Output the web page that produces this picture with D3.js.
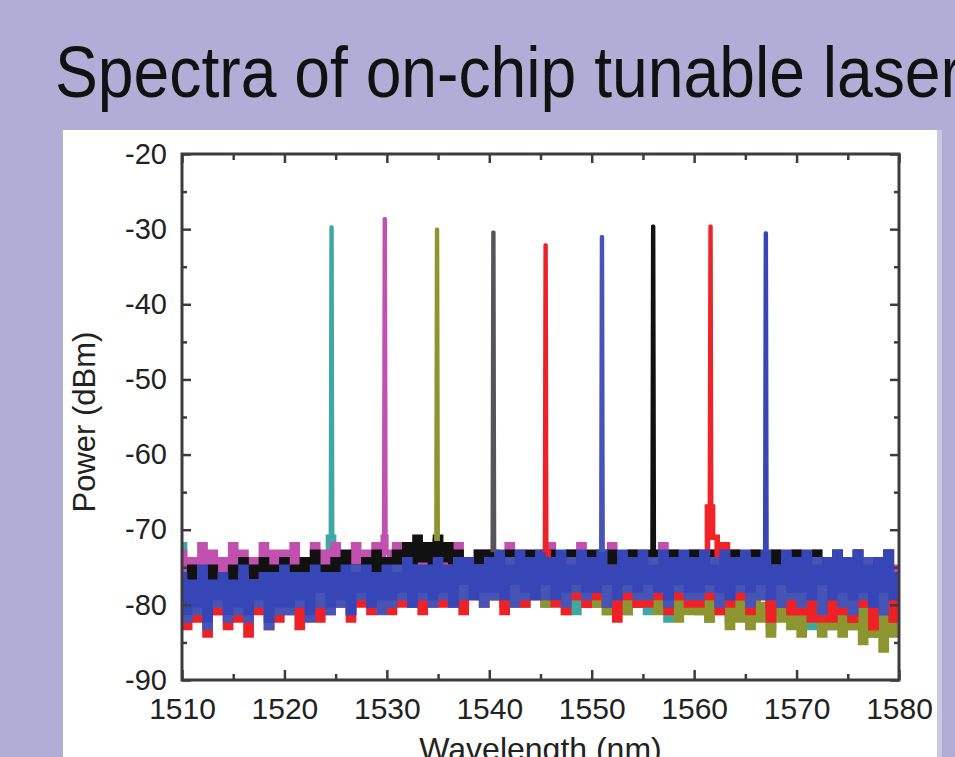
<!DOCTYPE html>
<html>
<head>
<meta charset="utf-8">
<script src="https://cdn.jsdelivr.net/npm/d3@7"></script>
<style>
  html, body { margin: 0; padding: 0; background: #b1add6; overflow: hidden; }
  svg { display: block; }
</style>
</head>
<body>
<svg id="chart" width="955" height="757"></svg>
<script>
// Noise floor every 0.5 nm, from 1510 to 1580 nm.
var gridStart = 1510, gridStep = 0.5;

var xTicks = [1510, 1520, 1530, 1540, 1550, 1560, 1570, 1580];
var xMinorTicks = [1515, 1525, 1535, 1545, 1555, 1565, 1575];
var yTicks = [-20, -30, -40, -50, -60, -70, -80, -90];
var yMinorTicks = [-25, -35, -45, -55, -65, -75, -85];

// One trace per laser setting, in the order the peaks sit on the axis.
var seriesNames = ["teal", "magenta", "olive", "gray", "red1", "blue1", "black", "red2", "blue2"];
var seriesColors = ["#3fa8a2", "#c150ae", "#8c9530", "#58545c", "#ee2226", "#4654b6", "#111111", "#f02428", "#3646b6"];
var peakWavelength = [1524.6, 1529.8, 1534.9, 1540.4, 1545.5, 1551.0, 1556.0, 1561.6, 1567.0];
var peakPower = [-29.7, -28.6, -30.0, -30.4, -32.1, -31.0, -29.6, -29.6, -30.5];
var peakFoot = [-71, -71, -71.5, -73, -73, -73, -73, -67, -73];

var noiseTeal = [
  -72,-79,-76,-78,-75,-80,-76,-78,-75,-79,
  -76,-79,-75,-78,-77,-80,-76,-79,-75,-78,
  -76,-79,-77,-78,-75,-80,-76,-78,-77,-79,
  -76,-78,-75,-79,-77,-78,-76,-79,-75,-78,
  -76,-78,-75,-79,-76,-78,-75,-77,-76,-79,
  -76,-79,-75,-78,-77,-80,-76,-78,-75,-79,
  -76,-79,-77,-80,-76,-78,-77,-80,-76,-79,
  -77,-80,-76,-79,-78,-80,-77,-81,-76,-79,
  -77,-80,-78,-81,-77,-79,-78,-81,-77,-80,
  -78,-81,-77,-80,-78,-82,-77,-81,-78,-80,
  -78,-81,-79,-82,-78,-80,-79,-82,-78,-81,
  -79,-82,-78,-81,-80,-83,-79,-81,-80,-82,
  -79,-82,-80,-83,-79,-81,-80,-83,-79,-82,
  -80,-83,-79,-82,-81,-84,-80,-82,-79,-83,
  -81
];
var noiseMagenta = [
  -73,-77,-74,-76,-72,-77,-73,-76,-74,-77,
  -72,-76,-73,-77,-74,-76,-72,-77,-73,-76,
  -73,-76,-72,-77,-74,-75,-72,-76,-73,-77,
  -72,-76,-74,-75,-72,-77,-73,-75,-72,-76,
  -73,-76,-72,-75,-74,-76,-73,-75,-72,-76,
  -74,-76,-73,-75,-72,-76,-74,-75,-73,-76,
  -73,-76,-74,-75,-72,-76,-73,-75,-74,-76,
  -73,-75,-72,-76,-74,-75,-73,-76,-72,-75,
  -74,-76,-73,-75,-72,-76,-74,-75,-73,-76,
  -73,-76,-74,-75,-72,-76,-73,-75,-74,-76,
  -73,-76,-74,-77,-73,-75,-74,-76,-73,-75,
  -74,-77,-73,-76,-74,-75,-73,-77,-74,-76,
  -73,-77,-74,-76,-73,-78,-74,-76,-75,-77,
  -74,-77,-73,-76,-75,-78,-74,-77,-73,-76,
  -75
];
var noiseOlive = [
  -76,-79,-75,-78,-77,-80,-75,-79,-76,-78,
  -75,-79,-76,-78,-75,-80,-77,-78,-75,-79,
  -76,-78,-75,-79,-77,-78,-75,-79,-76,-78,
  -75,-78,-76,-77,-75,-79,-76,-77,-75,-78,
  -75,-77,-74,-76,-73,-75,-72,-75,-73,-74,
  -72,-75,-73,-76,-74,-77,-75,-78,-76,-79,
  -76,-79,-77,-80,-76,-78,-77,-80,-76,-79,
  -77,-80,-76,-79,-77,-81,-76,-79,-77,-80,
  -77,-80,-76,-81,-77,-79,-78,-81,-77,-80,
  -78,-80,-77,-81,-78,-80,-77,-82,-78,-81,
  -78,-81,-79,-82,-78,-81,-79,-83,-78,-82,
  -79,-83,-78,-82,-80,-84,-79,-82,-80,-83,
  -79,-84,-80,-82,-81,-84,-79,-83,-80,-84,
  -80,-83,-81,-85,-80,-84,-82,-86,-81,-84,
  -82
];
var noiseGray = [
  -76,-79,-75,-80,-77,-78,-75,-79,-76,-80,
  -75,-79,-77,-78,-75,-80,-76,-79,-75,-78,
  -76,-79,-75,-78,-77,-80,-75,-79,-76,-78,
  -75,-78,-76,-79,-75,-77,-76,-79,-75,-78,
  -75,-78,-74,-77,-75,-79,-74,-77,-75,-78,
  -74,-77,-75,-78,-74,-77,-75,-78,-74,-77,
  -75,-78,-74,-77,-75,-79,-74,-77,-75,-78,
  -74,-78,-75,-77,-74,-79,-75,-77,-74,-78,
  -75,-78,-74,-79,-75,-77,-74,-78,-75,-79,
  -74,-78,-75,-77,-74,-79,-75,-78,-74,-77,
  -75,-79,-74,-78,-76,-79,-75,-78,-74,-79,
  -75,-79,-76,-78,-75,-80,-76,-79,-75,-78,
  -76,-80,-75,-79,-77,-80,-76,-79,-75,-80,
  -76,-80,-77,-79,-76,-81,-77,-80,-76,-79,
  -78
];
var noiseRed1 = [
  -79,-83,-78,-82,-80,-84,-78,-81,-79,-83,
  -78,-82,-80,-84,-77,-81,-79,-83,-78,-82,
  -79,-81,-77,-83,-78,-80,-79,-82,-77,-81,
  -78,-80,-77,-82,-76,-80,-78,-81,-77,-80,
  -77,-81,-76,-79,-78,-80,-76,-81,-77,-79,
  -76,-80,-77,-79,-75,-81,-77,-79,-76,-80,
  -77,-79,-76,-81,-77,-78,-76,-80,-77,-79,
  -76,-80,-77,-78,-76,-81,-77,-79,-76,-80,
  -77,-79,-76,-80,-77,-82,-76,-79,-77,-80,
  -76,-80,-77,-79,-76,-81,-77,-79,-76,-80,
  -77,-80,-76,-79,-77,-81,-76,-80,-77,-79,
  -76,-81,-77,-79,-76,-82,-77,-80,-76,-81,
  -77,-81,-76,-82,-78,-80,-77,-82,-76,-81,
  -77,-82,-76,-80,-78,-83,-77,-81,-76,-82,
  -79
];
var noiseBlue1 = [
  -77,-82,-78,-81,-76,-83,-78,-80,-77,-82,
  -78,-81,-76,-82,-77,-80,-78,-83,-76,-81,
  -77,-81,-76,-80,-78,-82,-76,-80,-77,-81,
  -76,-80,-77,-81,-75,-79,-77,-80,-76,-81,
  -76,-80,-75,-79,-77,-80,-75,-79,-76,-80,
  -75,-79,-76,-80,-74,-79,-76,-78,-75,-80,
  -75,-79,-76,-78,-74,-80,-75,-79,-76,-78,
  -74,-79,-76,-78,-75,-80,-74,-78,-76,-79,
  -75,-78,-74,-80,-76,-79,-75,-78,-74,-79,
  -76,-79,-74,-78,-75,-80,-76,-78,-74,-79,
  -75,-79,-76,-78,-74,-80,-75,-79,-76,-78,
  -75,-80,-74,-79,-76,-78,-75,-80,-74,-79,
  -76,-80,-75,-79,-74,-81,-76,-79,-75,-80,
  -75,-81,-76,-79,-74,-80,-76,-81,-75,-79,
  -77
];
var noiseBlack = [
  -76,-79,-75,-78,-76,-80,-75,-78,-76,-79,
  -75,-78,-74,-77,-75,-78,-74,-77,-75,-78,
  -74,-77,-75,-78,-74,-77,-73,-76,-75,-77,
  -74,-77,-73,-76,-75,-77,-74,-76,-73,-77,
  -74,-76,-73,-75,-72,-75,-71,-74,-72,-75,
  -71,-74,-72,-75,-73,-76,-74,-76,-73,-77,
  -73,-76,-74,-77,-73,-75,-74,-77,-73,-76,
  -74,-77,-73,-76,-74,-77,-73,-76,-74,-77,
  -73,-76,-74,-77,-73,-76,-74,-78,-73,-76,
  -74,-77,-73,-76,-74,-77,-73,-76,-74,-77,
  -73,-77,-74,-76,-73,-77,-74,-76,-73,-77,
  -74,-76,-73,-77,-74,-76,-73,-78,-74,-76,
  -73,-77,-74,-76,-73,-78,-74,-77,-73,-76,
  -74,-78,-73,-77,-75,-78,-74,-77,-73,-78,
  -76
];
var noiseRed2 = [
  -77,-80,-78,-81,-77,-79,-78,-81,-77,-80,
  -78,-80,-77,-81,-78,-79,-77,-80,-78,-81,
  -77,-80,-76,-79,-78,-81,-77,-79,-76,-80,
  -77,-79,-76,-80,-77,-79,-76,-80,-77,-79,
  -76,-79,-77,-80,-76,-78,-77,-79,-76,-80,
  -76,-79,-75,-78,-77,-80,-76,-79,-75,-78,
  -76,-79,-77,-78,-75,-80,-76,-79,-77,-78,
  -76,-79,-75,-80,-77,-78,-76,-79,-75,-80,
  -76,-78,-77,-80,-75,-79,-76,-78,-77,-80,
  -76,-79,-75,-78,-77,-80,-76,-79,-75,-78,
  -76,-79,-73,-76,-71,-74,-72,-76,-74,-79,
  -77,-80,-76,-79,-78,-81,-77,-80,-76,-81,
  -78,-81,-77,-80,-79,-82,-77,-81,-78,-80,
  -78,-82,-77,-80,-79,-83,-78,-81,-77,-82,
  -79
];
var noiseBlue2 = [
  -76,-81,-77,-80,-75,-82,-77,-79,-76,-81,
  -77,-80,-75,-81,-77,-79,-76,-82,-76,-80,
  -75,-80,-76,-79,-76,-81,-75,-78,-76,-80,
  -76,-79,-75,-81,-76,-78,-75,-80,-76,-79,
  -75,-79,-76,-78,-74,-80,-75,-78,-75,-79,
  -74,-78,-75,-80,-74,-77,-74,-79,-75,-78,
  -74,-78,-73,-79,-75,-77,-73,-78,-74,-79,
  -73,-77,-74,-79,-73,-78,-75,-77,-73,-78,
  -74,-78,-73,-77,-75,-79,-73,-77,-74,-78,
  -73,-77,-75,-78,-73,-79,-74,-77,-73,-78,
  -74,-78,-73,-77,-75,-78,-73,-79,-74,-77,
  -73,-78,-74,-77,-73,-79,-75,-77,-73,-78,
  -74,-78,-73,-79,-75,-77,-74,-79,-73,-78,
  -74,-79,-73,-78,-75,-80,-74,-78,-73,-79,
  -76
];

var seriesNoise = [noiseTeal, noiseMagenta, noiseOlive, noiseGray, noiseRed1,
                   noiseBlue1, noiseBlack, noiseRed2, noiseBlue2];

// Later traces end up on top, the way the blue floor covers most of the others.
var drawOrder = [0, 2, 3, 1, 6, 7, 4, 5, 8];

var svg = d3.select("#chart");
var W = 955, H = 757;

// Slide backdrop and the white figure panel.
svg.append("rect").attr("width", W).attr("height", H).attr("fill", "#b1add6");
svg.append("rect").attr("x", 937).attr("y", 130).attr("width", 5).attr("height", H - 130)
  .attr("fill", "#cbc8e6");
svg.append("rect").attr("x", 63).attr("y", 130).attr("width", 874).attr("height", H - 130)
  .attr("fill", "#ffffff");

svg.append("text")
  .attr("x", 55).attr("y", 97)
  .attr("textLength", 907).attr("lengthAdjust", "spacingAndGlyphs")
  .style("font-family", "'Liberation Sans', Arial, sans-serif")
  .style("font-size", "72px")
  .attr("fill", "#111")
  .text("Spectra of on-chip tunable laser");

var margin = {left: 182, top: 154, right: 899, bottom: 680};
var width = margin.right - margin.left;
var height = margin.bottom - margin.top;

var x = d3.scaleLinear().domain([1510, 1580]).range([0, width]);
var y = d3.scaleLinear().domain([-90, -20]).range([height, 0]);

var g = svg.append("g").attr("transform", "translate(" + margin.left + "," + margin.top + ")");

g.append("clipPath").attr("id", "plotclip")
  .append("rect").attr("width", width).attr("height", height);

// Noise part of a trace: the floor samples, joined to the foot of the lasing line.
function noiseData(i) {
  var w = peakWavelength[i];
  var pts = seriesNoise[i]
    .map(function (v, k) { return [gridStart + k * gridStep, v]; })
    .filter(function (p) { return Math.abs(p[0] - w) > 0.2; });
  pts.push([w, peakFoot[i]]);
  pts.sort(function (a, b) { return a[0] - b[0]; });
  return pts;
}

// Lasing line: a narrow spike from the foot up to the peak power.
function spikeData(i) {
  var w = peakWavelength[i];
  return [[w - 0.12, peakFoot[i]], [w - 0.05, peakPower[i]],
          [w + 0.05, peakPower[i]], [w + 0.12, peakFoot[i]]];
}

// The analyser samples are dense, so each reading is drawn as a step.
var stepLine = d3.line()
  .curve(d3.curveStep)
  .x(function (d) { return x(d[0]); })
  .y(function (d) { return y(d[1]); });

var line = d3.line()
  .x(function (d) { return x(d[0]); })
  .y(function (d) { return y(d[1]); });

var traces = g.append("g").attr("clip-path", "url(#plotclip)");
drawOrder.forEach(function (i) {
  traces.append("path")
    .datum(noiseData(i))
    .attr("fill", "none")
    .attr("stroke", seriesColors[i])
    .attr("stroke-width", 5.6)
    .attr("stroke-linejoin", "miter")
    .attr("d", stepLine);
});
drawOrder.forEach(function (i) {
  traces.append("path")
    .datum(spikeData(i))
    .attr("fill", "none")
    .attr("stroke", seriesColors[i])
    .attr("stroke-width", 3.4)
    .attr("stroke-linejoin", "round")
    .attr("d", line);
});

// Axes: ticks point inward on all four sides, labels only on left and bottom.
var axisFont = "'Liberation Sans', Arial, sans-serif";
var frameColor = "#3e3a42";
var plainNumber = function (d) { return String(d); };

function styleAxis(sel) {
  sel.select(".domain").remove();
  sel.selectAll("line").attr("stroke", frameColor).attr("stroke-width", 2.5);
  sel.selectAll("text").style("font-family", axisFont).attr("fill", "#222");
}

g.append("g").attr("transform", "translate(0," + height + ")")
  .call(d3.axisBottom(x).tickValues(xTicks).tickSize(-10).tickPadding(18).tickFormat(plainNumber))
  .call(styleAxis)
  .selectAll("text").style("font-size", "30px");
g.append("g").attr("transform", "translate(0," + height + ")")
  .call(d3.axisBottom(x).tickValues(xMinorTicks).tickSize(-6).tickFormat(""))
  .call(styleAxis);
g.append("g")
  .call(d3.axisTop(x).tickValues(xTicks).tickSize(-9).tickFormat(""))
  .call(styleAxis);
g.append("g")
  .call(d3.axisTop(x).tickValues(xMinorTicks).tickSize(-6).tickFormat(""))
  .call(styleAxis);

g.append("g")
  .call(d3.axisLeft(y).tickValues(yTicks).tickSize(-9).tickPadding(15).tickFormat(plainNumber))
  .call(styleAxis)
  .selectAll("text").style("font-size", "29px");
g.append("g")
  .call(d3.axisLeft(y).tickValues(yMinorTicks).tickSize(-5).tickFormat(""))
  .call(styleAxis);
g.append("g").attr("transform", "translate(" + width + ",0)")
  .call(d3.axisRight(y).tickValues(yTicks).tickSize(-9).tickFormat(""))
  .call(styleAxis);
g.append("g").attr("transform", "translate(" + width + ",0)")
  .call(d3.axisRight(y).tickValues(yMinorTicks).tickSize(-5).tickFormat(""))
  .call(styleAxis);

g.append("rect")
  .attr("width", width).attr("height", height)
  .attr("fill", "none").attr("stroke", frameColor).attr("stroke-width", 3);

g.append("text")
  .attr("x", width / 2).attr("y", height + 80)
  .attr("text-anchor", "middle")
  .style("font-family", axisFont).style("font-size", "32px").attr("fill", "#222")
  .text("Wavelength (nm)");

g.append("text")
  .attr("transform", "translate(-87," + (height / 2 + 5) + ") rotate(-90)")
  .attr("text-anchor", "middle")
  .style("font-family", axisFont).style("font-size", "31px").attr("fill", "#222")
  .text("Power (dBm)");
</script>
</body>
</html>
